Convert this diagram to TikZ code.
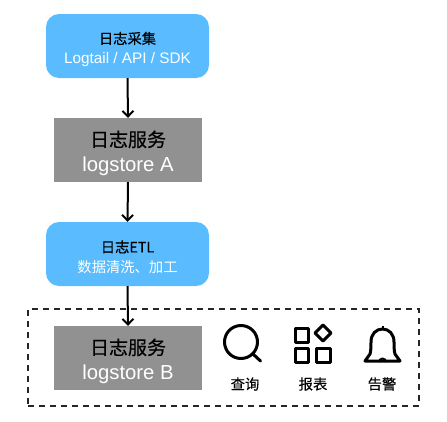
\documentclass[tikz,border=0pt]{standalone}
\usepackage{fontspec}
\setmainfont{Liberation Sans}
\newfontfamily\cjk[FakeBold=0.35]{Noto Sans CJK SC}
\newfontfamily\cjklight{Noto Sans CJK SC}
\usetikzlibrary{arrows.meta}
\definecolor{skyb}{HTML}{5ABCFF}
\definecolor{grayb}{HTML}{919191}
\tikzset{
  bluebox/.style={draw=none,fill=skyb,rounded corners=13pt,minimum width=163pt,minimum height=64pt,inner sep=0pt,align=center,text=white},
  graybox/.style={draw=none,fill=grayb,minimum width=148pt,minimum height=64pt,inner sep=0pt,align=center,text=white},
  flow/.style={line width=2pt,-{Straight Barb[length=5.5pt,width=11pt,line width=2pt]}},
  icon/.style={line width=3pt,draw=black,line join=round},
  caption/.style={inner sep=0pt,font=\fontsize{14.3}{14.3}\selectfont\cjk,text=black},
}
\newcommand{\bluetext}[2]{\rule{0pt}{18.6pt}{\fontsize{14.3}{19}\selectfont\cjk\textcolor{black}{#1}}\\[6.5pt]{\fontsize{15.3}{19}\selectfont #2}}
\newcommand{\graytext}[2]{\rule{0pt}{22.7pt}{\fontsize{19}{26}\selectfont\cjk\textcolor{black}{#1}}\\[8pt]{\fontsize{20.3}{26}\selectfont #2}}
\begin{document}
\begin{tikzpicture}[x=1pt,y=-1pt]
\useasboundingbox (0,0) rectangle (447,421);
\node[draw=black!85,dashed,line width=1.2pt,dash pattern=on 6pt off 5pt,minimum width=391pt,minimum height=97pt,inner sep=0pt] (group) at (223.5,357.5) {};
\node[bluebox] (collect) at (127.5,46) {\bluetext{日志采集}{Logtail / API / SDK}};
\node[graybox] (storea) at (128,150) {\graytext{日志服务}{logstore A}};
\node[bluebox] (etl) at (127.5,254) {\bluetext{日志ETL}{{\fontsize{14.3}{19}\selectfont\cjklight 数据清洗、加工}}};
\node[graybox] (storeb) at (128,358) {\graytext{日志服务}{logstore B}};
\draw[flow] (collect.south) -- (storea.north);
\draw[flow] (storea.south) -- (etl.north);
\draw[flow] (etl.south) -- (storeb.north);
% search
\draw[icon] (241,342) circle (16.5);
\draw[icon,line cap=round] (253,354) -- (260.5,361);
% grid
\draw[icon] (295,328) rectangle (308,342);
\draw[icon] (295,348) rectangle (308,362);
\draw[icon] (316,348) rectangle (330,362);
\draw[icon] (323,325) -- (331,333) -- (323,341) -- (315,333) -- cycle;
% bell
\draw[icon] (365,361) -- (400,361) -- (395,354)
  .. controls (394,351) and (394,345) .. (394,342)
  .. controls (394,334) and (389,329) .. (382.5,329)
  .. controls (376,329) and (371,334) .. (371,342)
  .. controls (371,345) and (371,351) .. (370,354) -- cycle;
\draw[icon,line width=2pt] (382.5,329) -- (382.5,325.5);
\draw[icon,line width=2pt] (379,362) arc[start angle=180,end angle=360,radius=3.5];
\node[caption] (query) at (245,384) {查询};
\node[caption] (report) at (313,384) {报表};
\node[caption] (alert) at (382,384) {告警};
\end{tikzpicture}
\end{document}
